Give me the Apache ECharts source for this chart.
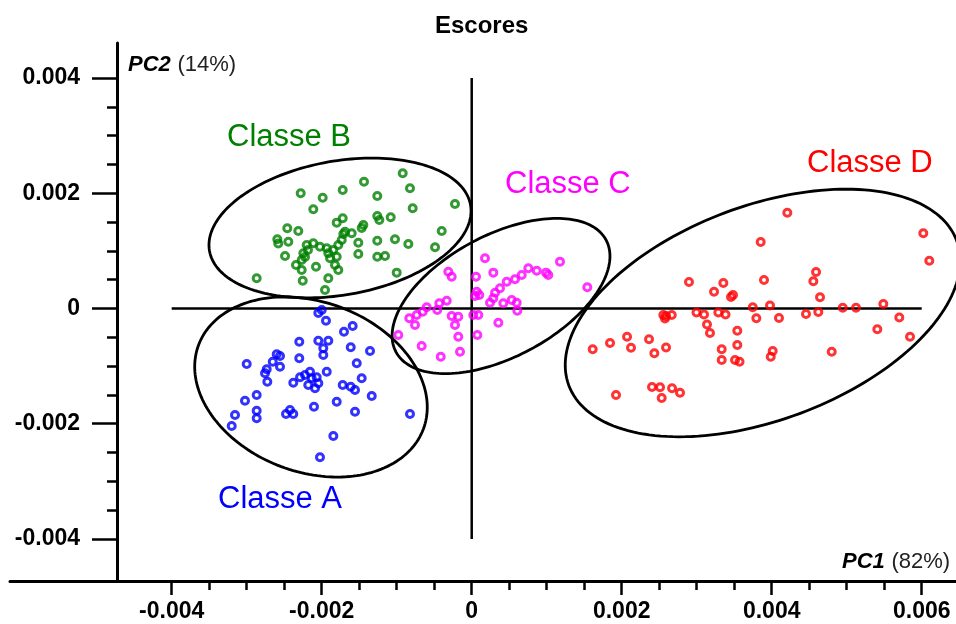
<!DOCTYPE html>
<html><head><meta charset="utf-8">
<script src="https://cdn.jsdelivr.net/npm/echarts@6/dist/echarts.min.js"></script>
<style>html,body{margin:0;padding:0;background:#fff}#chart{width:956px;height:624px}</style>
</head><body><div id="chart"></div>
<script>
// ---- data (PC1, PC2 scores) ----
const classA = [[-0.002000,-0.000026],[-0.002045,-0.000078],[-0.001943,-0.000212],[-0.001703,-0.000403],[-0.001587,-0.000304],[-0.002299,-0.000576],[-0.002045,-0.000559],[-0.001912,-0.000559],[-0.001979,-0.000691],[-0.001979,-0.000807],[-0.001613,-0.000674],[-0.001356,-0.000738],[-0.002299,-0.000865],[-0.002600,-0.000795],[-0.002556,-0.000825],[-0.002653,-0.000924],[-0.002556,-0.001010],[-0.003000,-0.000964],[-0.002733,-0.001056],[-0.002756,-0.001125],[-0.002725,-0.001271],[-0.001533,-0.000951],[-0.001933,-0.001097],[-0.002156,-0.001097],[-0.002223,-0.001155],[-0.002289,-0.001194],[-0.002379,-0.001288],[-0.002133,-0.001212],[-0.002067,-0.001194],[-0.002045,-0.001299],[-0.002179,-0.001328],[-0.002089,-0.001385],[-0.001467,-0.001212],[-0.001720,-0.001328],[-0.001613,-0.001358],[-0.001556,-0.001415],[-0.001333,-0.001519],[-0.001800,-0.001618],[-0.002867,-0.001502],[-0.003023,-0.001601],[-0.002867,-0.001774],[-0.002867,-0.001906],[-0.003156,-0.001849],[-0.003200,-0.002040],[-0.002423,-0.001762],[-0.002476,-0.001832],[-0.002379,-0.001832],[-0.002103,-0.001705],[-0.001556,-0.001792],[-0.000823,-0.001832],[-0.001845,-0.002214],[-0.002023,-0.002583]];
const classB = [[-0.000920,0.002347],[-0.001436,0.002201],[-0.001720,0.002057],[-0.000823,0.002087],[-0.002280,0.002000],[-0.001987,0.001924],[-0.002112,0.001722],[-0.001259,0.001953],[-0.000787,0.001740],[-0.000223,0.001814],[-0.001259,0.001606],[-0.001232,0.001536],[-0.001080,0.001583],[-0.001445,0.001450],[-0.001467,0.001398],[-0.001800,0.001490],[-0.001720,0.001566],[-0.001689,0.001333],[-0.001600,0.001306],[-0.002459,0.001392],[-0.002312,0.001345],[-0.002592,0.001201],[-0.002579,0.001128],[-0.002445,0.001160],[-0.000400,0.001345],[-0.001023,0.001201],[-0.000845,0.001120],[-0.001259,0.001177],[-0.001512,0.001142],[-0.001512,0.000946],[-0.000489,0.001063],[-0.001259,0.000899],[-0.001156,0.000911],[-0.001000,0.000622],[-0.002489,0.000911],[-0.002200,0.001102],[-0.002245,0.000958],[-0.002267,0.000842],[-0.002112,0.001132],[-0.002023,0.001073],[-0.001933,0.001045],[-0.001845,0.001016],[-0.001779,0.001102],[-0.001733,0.001189],[-0.001712,0.001293],[-0.001912,0.000958],[-0.001800,0.000899],[-0.001889,0.000872],[-0.002343,0.000755],[-0.002267,0.000668],[-0.002076,0.000726],[-0.001779,0.000668],[-0.002253,0.000483],[-0.001912,0.000524],[-0.001956,0.000321],[-0.002867,0.000524],[-0.001823,0.000755],[-0.002183,0.001016],[-0.002223,0.000894]];
const classC = [[0.000177,0.000872],[0.001177,0.000813],[-0.000312,0.000639],[-0.000267,0.000552],[0.000057,0.000552],[0.000288,0.000622],[0.000755,0.000698],[0.000867,0.000656],[0.000991,0.000622],[0.001021,0.000582],[0.000667,0.000582],[0.000577,0.000507],[0.000467,0.000465],[0.001541,0.000368],[0.000377,0.000351],[0.000311,0.000274],[0.000288,0.000177],[0.000244,0.000101],[0.000067,0.000292],[0.000101,0.000234],[0.000044,0.000217],[0.000421,0.000090],[0.000533,0.000148],[0.000600,0.000101],[0.000608,-0.000038],[-0.000333,0.000135],[-0.000432,0.000090],[-0.000459,-0.000026],[-0.000600,0.000021],[-0.000653,-0.000056],[-0.000733,-0.000113],[-0.000832,-0.000170],[-0.000756,-0.000286],[-0.000979,-0.000460],[-0.000267,-0.000130],[-0.000179,-0.000142],[-0.000223,-0.000286],[-0.000179,-0.000490],[-0.000156,-0.000750],[0.000021,-0.000113],[0.000088,-0.000113],[0.000075,-0.000460],[0.000355,-0.000247],[-0.000667,-0.000651],[-0.000413,-0.000837]];
const classD = [[0.001613,-0.000708],[0.001844,-0.000599],[0.001924,-0.001502],[0.002071,-0.000490],[0.002124,-0.000681],[0.002364,-0.000535],[0.002435,-0.000778],[0.002591,-0.000677],[0.002404,-0.001363],[0.002511,-0.001368],[0.002671,-0.001385],[0.002777,-0.001462],[0.002533,-0.001554],[0.002555,-0.000113],[0.002577,-0.000174],[0.002591,-0.000130],[0.002667,-0.000113],[0.002897,0.000460],[0.002997,-0.000069],[0.003097,-0.000104],[0.003137,-0.000278],[0.003177,-0.000425],[0.003231,0.000292],[0.003355,0.000443],[0.003288,-0.000069],[0.003384,-0.000104],[0.003484,0.000234],[0.003457,0.000200],[0.003541,-0.000385],[0.003541,-0.000634],[0.003333,-0.000708],[0.003333,-0.000894],[0.003511,-0.000894],[0.003571,-0.000924],[0.003747,0.000021],[0.003795,-0.000170],[0.003853,0.001155],[0.003897,0.000495],[0.003977,0.000052],[0.004013,-0.000738],[0.003987,-0.000837],[0.004097,-0.000165],[0.004208,0.001663],[0.004457,-0.000095],[0.004555,0.000472],[0.004591,0.000634],[0.004621,-0.000061],[0.004644,0.000194],[0.004800,-0.000750],[0.004947,0.000014],[0.005124,0.000014],[0.005408,-0.000361],[0.005488,0.000078],[0.005701,-0.000156],[0.005844,-0.000490],[0.006021,0.001306],[0.006101,0.000830]];

// ellipses: [centerPC1, centerPC2, semiAxisPC1, semiAxisPC2, tiltDeg]
const ellipseA = [-0.002143, -0.001363, 0.001600, 0.001476, -20.5];
const ellipseB = [-0.001756, 0.001398, 0.001767, 0.001163, 10];
const ellipseC = [0.000391, 0.000217, 0.001587, 0.001059, 28];
const ellipseD = [0.003880, -0.000078, 0.002760, 0.001860, 20.5];

// reference axes through origin
const hLine = [[-0.004, 0], [0.006, 0]];
const vLine = [[0, -0.004], [0, 0.004]];

// ticks
const xMajorTicks = [-0.004, -0.002, 0, 0.002, 0.004, 0.006];
const xMinorTicks = [-0.0035, -0.003, -0.0025, -0.0015, -0.001, -0.0005, 0.0005, 0.001, 0.0015, 0.0025, 0.003, 0.0035, 0.0045, 0.005, 0.0055];
const yMajorTicks = [-0.004, -0.002, 0, 0.002, 0.004];
const yMinorTicks = [-0.0035, -0.003, -0.0025, -0.0015, -0.001, -0.0005, 0.0005, 0.001, 0.0015, 0.0025, 0.003, 0.0035];

const classNames = ['Classe A', 'Classe B', 'Classe C', 'Classe D'];
const titleText = 'Escores';

// ---- chart ----
const FONT = 'Liberation Sans, Arial, sans-serif';
const X_MIN = -0.006156, X_MAX = 0.006457, Y_MIN = -0.004731, Y_MAX = 0.004609;
const fmt = v => (Math.abs(v) < 1e-12 ? '0' : String(+v.toFixed(4)));
const labelStyle = { color: '#000', fontFamily: FONT, fontWeight: 'bold', fontSize: 23 };

function scatter(name, data, color) {
  return {
    name, type: 'scatter', data, z: 5, symbol: 'circle', symbolSize: 7,
    itemStyle: { color: 'rgba(0,0,0,0)', borderColor: color, borderWidth: 3 },
    emphasis: { disabled: true }, silent: true
  };
}

const chart = echarts.init(document.getElementById('chart'), null, { renderer: 'canvas' });
chart.setOption({
  animation: false,
  backgroundColor: '#fff',
  title: {
    text: titleText, left: 435, top: 14, padding: 0,
    textStyle: { fontFamily: FONT, fontWeight: 'bold', fontSize: 24, color: '#000' }
  },
  grid: { left: 10, right: 0, top: 43, bottom: 43, containLabel: false, outerBoundsMode: 'none' },
  xAxis: [
    {
      type: 'value', min: X_MIN, max: X_MAX, position: 'bottom',
      axisLine: { show: true, onZero: false, lineStyle: { color: '#000', width: 3 } },
      axisTick: { show: true, customValues: xMajorTicks, length: 14, lineStyle: { color: '#000', width: 2.5 } },
      axisLabel: { show: true, customValues: xMajorTicks, margin: 19, formatter: fmt, ...labelStyle },
      splitLine: { show: false }
    },
    {
      type: 'value', min: X_MIN, max: X_MAX, position: 'bottom',
      axisLine: { show: false, onZero: false },
      axisTick: { show: true, customValues: xMinorTicks, length: 9, lineStyle: { color: '#000', width: 2.5 } },
      axisLabel: { show: false },
      splitLine: { show: false }
    }
  ],
  yAxis: [
    {
      type: 'value', min: Y_MIN, max: Y_MAX, position: 'left', offset: -107,
      axisLine: { show: true, onZero: false, lineStyle: { color: '#000', width: 3 } },
      axisTick: { show: true, customValues: yMajorTicks, length: 25, lineStyle: { color: '#000', width: 2.5 } },
      axisLabel: { show: true, customValues: yMajorTicks, margin: 37, formatter: fmt, ...labelStyle },
      splitLine: { show: false }
    },
    {
      type: 'value', min: Y_MIN, max: Y_MAX, position: 'left', offset: -107,
      axisLine: { show: false, onZero: false },
      axisTick: { show: true, customValues: yMinorTicks, length: 10, lineStyle: { color: '#000', width: 2.5 } },
      axisLabel: { show: false },
      splitLine: { show: false }
    }
  ],
  series: [
    { type: 'line', data: hLine, symbol: 'none', z: 1, silent: true, lineStyle: { color: '#000', width: 2.5 } },
    { type: 'line', data: vLine, symbol: 'none', z: 1, silent: true, lineStyle: { color: '#000', width: 2.5 } },
    {
      type: 'custom', z: 2, silent: true,
      dimensions: ['cx', 'cy', 'rx', 'ry', 'ang'],
      encode: { x: 0, y: 1 },
      data: [ellipseA, ellipseB, ellipseC, ellipseD],
      renderItem: function (params, api) {
        const c = api.coord([api.value(0), api.value(1)]);
        const s = api.size([api.value(2), api.value(3)]);
        const a = api.value(4) * Math.PI / 180;
        const pts = [];
        for (let i = 0; i < 180; i++) {
          const t = i / 180 * 2 * Math.PI;
          const ex = s[0] * Math.cos(t), ey = s[1] * Math.sin(t);
          pts.push([c[0] + ex * Math.cos(a) + ey * Math.sin(a), c[1] - ex * Math.sin(a) + ey * Math.cos(a)]);
        }
        return { type: 'polygon', shape: { points: pts }, style: { fill: 'none', stroke: '#000', lineWidth: 2.8 } };
      }
    },
    scatter(classNames[0], classA, '#0000ff'),
    scatter(classNames[1], classB, '#008000'),
    scatter(classNames[2], classC, '#ff00ff'),
    scatter(classNames[3], classD, '#ff0000')
  ],
  graphic: [
    { type: 'text', x: 128, y: 65, style: { text: '{b|PC2}  {n|(14%)}', verticalAlign: 'middle', align: 'left',
        rich: { b: { fontFamily: FONT, fontSize: 22, fontWeight: 'bold', fontStyle: 'italic', fill: '#000' },
                n: { fontFamily: FONT, fontSize: 22, fill: '#222' } } } },
    { type: 'text', x: 842, y: 562, style: { text: '{b|PC1}  {n|(82%)}', verticalAlign: 'middle', align: 'left',
        rich: { b: { fontFamily: FONT, fontSize: 22, fontWeight: 'bold', fontStyle: 'italic', fill: '#000' },
                n: { fontFamily: FONT, fontSize: 22, fill: '#222' } } } },
    { type: 'text', x: 218, y: 499, style: { text: classNames[0], fill: '#0000ff', font: '31px ' + FONT, verticalAlign: 'middle' } },
    { type: 'text', x: 227, y: 137, style: { text: classNames[1], fill: '#008000', font: '31px ' + FONT, verticalAlign: 'middle' } },
    { type: 'text', x: 505, y: 184, style: { text: classNames[2], fill: '#ff00ff', font: '31px ' + FONT, verticalAlign: 'middle' } },
    { type: 'text', x: 807, y: 163, style: { text: classNames[3], fill: '#ff0000', font: '31px ' + FONT, verticalAlign: 'middle' } }
  ]
});
</script></body></html>
